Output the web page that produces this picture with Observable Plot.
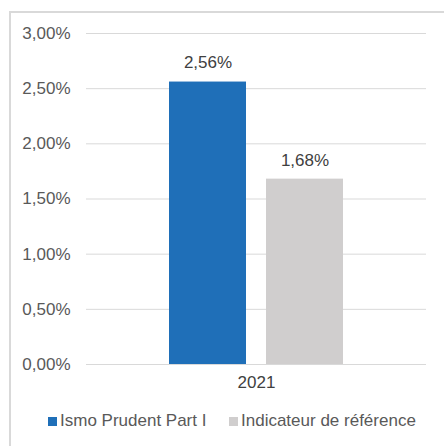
<!DOCTYPE html>
<html>
<head>
<meta charset="utf-8">
<script src="https://cdn.jsdelivr.net/npm/d3@7"></script>
<script src="https://cdn.jsdelivr.net/npm/@observablehq/plot@0.6"></script>
<style>
  html, body { margin: 0; padding: 0; background: #fff; overflow: hidden; width: 444px; height: 446px; }
  #frame { position: absolute; left: 9px; top: 11px; width: 520px; height: 520px; border: 2px solid #d9d9d9; box-sizing: border-box; }
  #chart { position: absolute; left: 0; top: 0; }
  #legend { position: absolute; left: 0; top: 411px; width: 444px; font-family: "Liberation Sans", Arial, sans-serif; font-size: 17px; color: #595959; }
  .item { position: absolute; top: 0; white-space: nowrap; line-height: 20px; }
  .sw { display: inline-block; width: 9px; height: 9px; margin-right: 3px; vertical-align: 0px; }
</style>
</head>
<body>
<div id="frame"></div>
<div id="chart"></div>
<div id="legend"></div>
<script>
const categories = ["2021"];
const series = ["Ismo Prudent Part I", "Indicateur de référence"];
const values = [2.56, 1.68];
const colors = ["#1f6fb8", "#d0cece"];
const yTicks = [0, 0.5, 1, 1.5, 2, 2.5, 3];

const data = series.map((s, i) => ({series: s, value: values[i], year: categories[0]}));
const fmt = d => d.toFixed(2).replace(".", ",") + "%";
const font = "Liberation Sans, Arial, sans-serif";

const plot = Plot.plot({
  width: 444,
  height: 400,
  marginLeft: 86,
  marginRight: 18,
  marginTop: 33,
  marginBottom: 36,
  style: {fontFamily: font, fontSize: "17px", color: "#595959", background: "transparent"},
  x: {domain: series, paddingInner: 0.2062, paddingOuter: 0.8556, axis: null},
  y: {domain: [0, 3], ticks: yTicks, tickFormat: fmt, tickSize: 0, tickPadding: 16, label: null},
  color: {domain: series, range: colors},
  marks: [
    Plot.ruleY(yTicks, {stroke: "#d9d9d9", strokeWidth: 1}),
    Plot.barY(data, {x: "series", y: "value", fill: "series"}),
    Plot.text(data, {x: "series", y: "value", text: d => fmt(d.value), dy: -19, fill: "#404040", fontSize: 17}),
    Plot.text(categories, {text: d => d, frameAnchor: "bottom", dy: 23, fill: "#404040", fontSize: 17}),
    Plot.axisY({ticks: yTicks, tickFormat: fmt, tickSize: 0, tickPadding: 16, fill: "#595959", fontSize: 17, label: null})
  ]
});
document.getElementById("chart").appendChild(plot);

const legend = document.getElementById("legend");
const lefts = [48, 229];
series.forEach((s, i) => {
  const it = document.createElement("div");
  it.className = "item";
  it.style.left = lefts[i] + "px";
  const sw = document.createElement("span");
  sw.className = "sw";
  sw.style.background = colors[i];
  it.appendChild(sw);
  it.appendChild(document.createTextNode(s));
  legend.appendChild(it);
});
</script>
</body>
</html>
